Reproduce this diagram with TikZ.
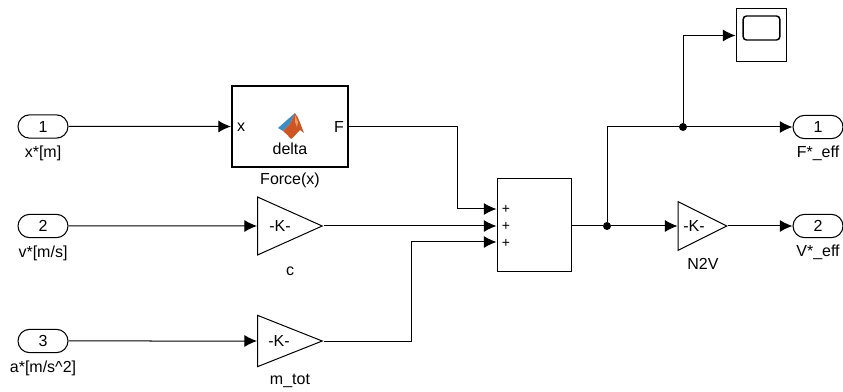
\documentclass[tikz,border=0pt]{standalone}
\usepackage{fontspec}
\setmainfont{Liberation Sans}
\usetikzlibrary{arrows.meta,shapes.geometric,shapes.misc}
\definecolor{logoblue}{RGB}{62,140,196}
\definecolor{logored}{RGB}{205,85,35}
\definecolor{logolight}{RGB}{240,150,100}
\tikzset{
  port/.style={draw, rounded rectangle, line width=0.8pt, minimum width=37.5pt, minimum height=17.5pt, inner sep=0pt, font=\fontsize{12}{14}\selectfont},
  gain/.style={draw, isosceles triangle, isosceles triangle stretches, line width=0.75pt, inner sep=0pt, anchor=apex},
  label/.style={inner sep=0pt, font=\fontsize{12}{14}\selectfont},
  plus/.style={inner sep=0pt, font=\fontsize{10.5}{12}\selectfont},
  wire/.style={line width=0.75pt, -{Latex[length=9.5pt,width=9pt]}},
  dot/.style={circle, fill=black, inner sep=0pt, minimum size=6pt}
}
\begin{document}
\begin{tikzpicture}[x=0.75pt,y=-0.75pt]
    \useasboundingbox (0,0) rectangle (843,392);

    % input ports
    \node[port] (in1) at (43,126.5) {1};
    \node[port] (in2) at (43,226) {2};
    \node[port] (in3) at (43,341) {3};
    \node[label] at (43,153) {x*[m]};
    \node[label] at (43,253) {v*[m/s]};
    \node[label] at (43,368) {a*[m/s\textasciicircum 2]};

    % function block
    \node[draw, line width=1.6pt, minimum width=87pt, minimum height=60.5pt, inner sep=0pt] (force) at (290,126.5) {};
    \node[label] at (241,127) {x};
    \node[label] at (339,127) {F};
    \node[label] at (290,149) {delta};
    \node[label] at (290,180) {Force(x)};
    % logo
    \fill[logoblue] (278,128) -- (287,120) -- (295,113) -- (290,124) -- (283,131) -- cycle;
    \fill[logored] (283,131) -- (290,124) -- (295,113) .. controls (299,118) and (301,126) .. (304,133) -- (300,130) .. controls (297,133) and (294,137) .. (291,139) .. controls (288,136) and (286,133) .. (283,131) -- cycle;
    \fill[logolight] (295,115) -- (298,122) -- (297,127) -- (295,122) -- cycle;

    % gains
    \node[gain, minimum width=43.5pt, minimum height=48.5pt] (gc) at (323.5,226) {};
    \node[gain, minimum width=38.5pt, minimum height=48.5pt] (gm) at (323.5,341) {};
    \node[gain, minimum width=36.5pt, minimum height=36.5pt] (gn) at (728,226) {};
    \node[label] at (280,226) {-K-};
    \node[label] at (279,341) {-K-};
    \node[label] at (694,226) {-K-};
    \node[label] at (290,271) {c};
    \node[label] at (290,381) {m\_tot};
    \node[label] at (703,264) {N2V};

    % sum
    \node[draw, line width=0.75pt, minimum width=55.5pt, minimum height=69.75pt, inner sep=0pt] (sum) at (534,225.5) {};
    \coordinate (sum1) at (sum.west |- 0,209);
    \coordinate (sum2) at (sum.west |- 0,226);
    \coordinate (sum3) at (sum.west |- 0,242);
    \node[plus] at (506,209.5) {+};
    \node[plus] at (506,226.5) {+};
    \node[plus] at (506,243) {+};

    % scope
    \node[draw, line width=0.75pt, minimum width=37.5pt, minimum height=39.75pt, inner sep=0pt] (scope) at (761,35.5) {};
    \node[draw, rounded corners=2.5pt, line width=1.1pt, minimum width=27.5pt, minimum height=18pt, inner sep=0pt] (screen) at (761.5,28) {};

    % output ports
    \node[port] (out1) at (818,127) {1};
    \node[port] (out2) at (818,226) {2};
    \node[label] at (818,153) {F*\_eff};
    \node[label] at (818,252) {V*\_eff};

    % junctions
    \node[dot] (split) at (607,226) {};
    \node[dot] (tap) at (683,127) {};

    % wires
    \draw[wire] (in1) -- (force.west |- in1);
    \draw[wire] (in2) -- (gc.west |- in2);
    \draw[wire] (in3) -- (gm.west |- in3);
    \draw[wire] (force.east) -- (457,126.5) |- (sum1);
    \draw[wire] (gc.apex) -- (sum2);
    \draw[wire] (gm.apex) -- (411,341) |- (sum3);
    \draw[line width=0.75pt] (sum.east |- split) -- (split);
    \draw[wire] (split) -- (gn.west |- split);
    \draw[wire] (gn.apex) -- (out2);
    \draw[line width=0.75pt] (split) |- (tap);
    \draw[wire] (tap) -- (out1);
    \draw[wire] (tap) |- (scope.west);
\end{tikzpicture}
\end{document}
